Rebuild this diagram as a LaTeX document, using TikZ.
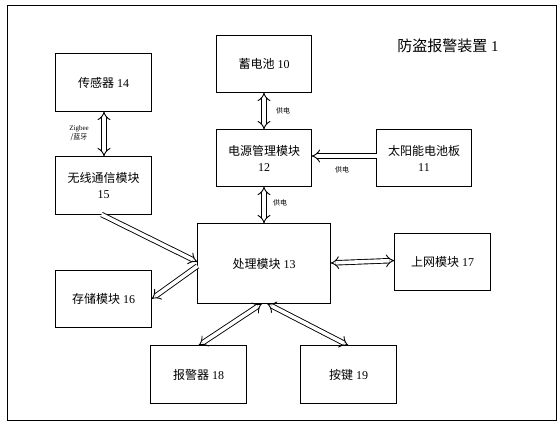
\documentclass[tikz,border=0pt]{standalone}
\usepackage{fontspec}
\setmainfont{Liberation Serif}
\newfontfamily\cjk{Noto Sans CJK SC}
\usetikzlibrary{arrows.meta,calc}
\tikzset{
  blk/.style={draw, line width=1pt, minimum width=96pt, minimum height=58pt, inner sep=0pt, outer sep=0pt, align=center, font=\fontsize{12}{16}\selectfont},
  dbl/.style={draw, double, double distance=3.6pt, line width=0.9pt},
  hd/.tip={Implies[scale=1.3]},
  lbl/.style={font=\fontsize{7}{9}\selectfont, inner sep=0pt, align=center}
}
\begin{document}
\begin{tikzpicture}[x=1pt,y=-1pt]
\useasboundingbox (0,0) rectangle (560,424);
\draw[line width=1pt] (7.5,5.5) rectangle (556.5,420.5);
\node[font=\fontsize{15}{18}\selectfont] (title) at (448,46) {{\cjk 防盗报警装置}\ 1};
\node[blk] (s14) at (103.5,82.5) {{\cjk 传感器}\ 14};
\node[blk] (w15) at (103.5,185.5) {{\cjk 无线通信模块}\\15};
\node[blk, minimum width=95pt, minimum height=57pt] (b10) at (264,64) {{\cjk 蓄电池}\ 10};
\node[blk, minimum width=95pt, minimum height=57pt] (p12) at (264,158) {{\cjk 电源管理模块}\\12};
\node[blk, minimum width=95pt, minimum height=57pt] (s11) at (424,158) {{\cjk 太阳能电池板}\\11};
\node[blk, minimum width=133pt, minimum height=80pt] (c13) at (264,263.5) {{\cjk 处理模块}\ 13};
\node[blk, minimum height=57pt] (m16) at (103.5,299) {{\cjk 存储模块}\ 16};
\node[blk, minimum height=57pt] (n17) at (442.5,262) {{\cjk 上网模块}\ 17};
\node[blk] (a18) at (198.5,374.5) {{\cjk 报警器}\ 18};
\node[blk] (k19) at (348.5,374.5) {{\cjk 按键}\ 19};
\coordinate (t14) at ($(s14.south)+(0.5,0)$);
\coordinate (t15) at ($(w15.north)+(0.5,0)$);
\coordinate (t11) at ($(s11.west)+(0,-2)$);
\coordinate (t12) at ($(p12.east)+(0,-2)$);
\coordinate (c13e) at ($(c13.east)+(0,-0.5)$);
\coordinate (n17w) at ($(n17.west)+(0,-1.5)$);
\coordinate (w15s) at ($(w15.south)+(-2,0)$);
\coordinate (c13w1) at ($(c13.west)+(0,-1.5)$);
\coordinate (c13w2) at ($(c13.west)+(0,2.5)$);
\coordinate (c13s1) at ($(c13.south)+(-2,0)$);
\coordinate (c13s2) at ($(c13.south)+(3,0)$);
\draw[dbl, hd-hd] (t14) -- (t15);
\draw[dbl, hd-hd] (b10.south) -- (p12.north);
\draw[dbl, hd-hd] (p12.south) -- (c13.north);
\draw[dbl, -hd] (t11) -- (t12);
\draw[dbl, hd-hd] (c13e) -- (n17w);
\draw[dbl, -hd] (w15s) -- (c13w1);
\draw[dbl, -hd] (c13w2) -- (m16.east);
\draw[dbl, hd-hd] (c13s1) -- (a18.north);
\draw[dbl, hd-hd] (c13s2) -- (k19.north);
\node[lbl] (l1) at (79,133) {Zigbee\\{\cjk /蓝牙}};
\node[lbl] (l2) at (283,111) {\cjk 供电};
\node[lbl] (l3) at (342,170) {\cjk 供电};
\node[lbl] (l4) at (280,203) {\cjk 供电};
\end{tikzpicture}
\end{document}
